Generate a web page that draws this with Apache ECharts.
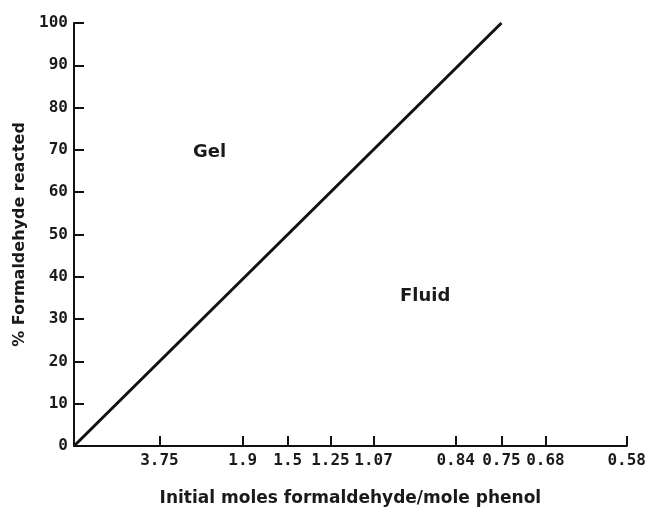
<!DOCTYPE html>
<html>
<head>
<meta charset="utf-8">
<script src="https://cdn.jsdelivr.net/npm/echarts@6/dist/echarts.min.js"></script>
<style>
html,body{margin:0;padding:0;background:#fff;}
#Echarts1{width:649px;height:512px;}
</style>
</head>
<body>
<div id="Echarts1"></div>
<script>
'use strict';
// 刻度: 初始 甲醛/苯酚 摩尔比 (轴按 75/R 线性排列)
var xRatios = ['3.75', '1.9', '1.5', '1.25', '1.07', '0.84', '0.75', '0.68', '0.58'];
var yTicks = [0, 10, 20, 30, 40, 50, 60, 70, 80, 90, 100];
// 凝胶线: 轴坐标 (75/R) 与 % 甲醛反应
var lineX = [0, 100];
var lineY = [0, 100];

var myChart1 = echarts.init(document.getElementById('Echarts1'));

function ratioPos(r) {
    return 75 / parseFloat(r);
}
var xPos = xRatios.map(ratioPos);
var xMax = ratioPos(xRatios[xRatios.length - 1]);

var monoFont = 'DejaVu Sans Mono';
var textColor = '#1a1a1a';

var option = {
    backgroundColor: '#fff',
    animation: false,
    grid: {
        left: 74,
        right: 17,
        top: 23,
        bottom: 64
    },
    xAxis: {
        type: 'value',
        min: 0,
        max: xMax,
        splitLine: {show: false},
        axisLine: {
            show: true,
            onZero: false,
            lineStyle: {color: '#111', width: 2}
        },
        axisTick: {
            show: true,
            inside: true,
            length: 10,
            customValues: xPos,
            lineStyle: {color: '#111', width: 2}
        },
        axisLabel: {
            customValues: xPos,
            margin: 7,
            color: textColor,
            fontFamily: monoFont,
            fontSize: 16,
            fontWeight: 'bold',
            formatter: function (v) {
                var best = 0;
                xPos.forEach(function (p, i) {
                    if (Math.abs(p - v) < Math.abs(xPos[best] - v)) best = i;
                });
                return xRatios[best];
            }
        },
        name: 'Initial moles formaldehyde/mole phenol',
        nameLocation: 'middle',
        nameGap: 44,
        nameTextStyle: {
            color: textColor,
            fontFamily: 'DejaVu Sans',
            fontSize: 17,
            fontWeight: 'bold'
        }
    },
    yAxis: {
        type: 'value',
        min: 0,
        max: 100,
        interval: 10,
        splitLine: {show: false},
        axisLine: {
            show: true,
            lineStyle: {color: '#111', width: 2}
        },
        axisTick: {
            show: true,
            inside: true,
            length: 10,
            customValues: yTicks,
            lineStyle: {color: '#111', width: 2}
        },
        axisLabel: {
            customValues: yTicks,
            margin: 6,
            color: textColor,
            fontFamily: monoFont,
            fontSize: 16,
            fontWeight: 'bold'
        },
        name: '% Formaldehyde reacted',
        nameLocation: 'middle',
        nameRotate: 90,
        nameGap: 45,
        nameTextStyle: {
            color: textColor,
            fontFamily: 'DejaVu Sans',
            fontSize: 16,
            fontWeight: 'bold'
        }
    },
    graphic: [
        {
            type: 'text',
            left: 193,
            top: 143,
            style: {
                text: 'Gel',
                fill: textColor,
                font: 'bold 18px "DejaVu Sans"'
            }
        },
        {
            type: 'text',
            left: 400,
            top: 287,
            style: {
                text: 'Fluid',
                fill: textColor,
                font: 'bold 18px "DejaVu Sans"'
            }
        }
    ],
    series: [
        {
            type: 'line',
            data: lineX.map(function (x, i) { return [x, lineY[i]]; }),
            symbol: 'none',
            clip: false,
            lineStyle: {color: '#111', width: 3}
        }
    ]
};
myChart1.setOption(option);
</script>
</body>
</html>
